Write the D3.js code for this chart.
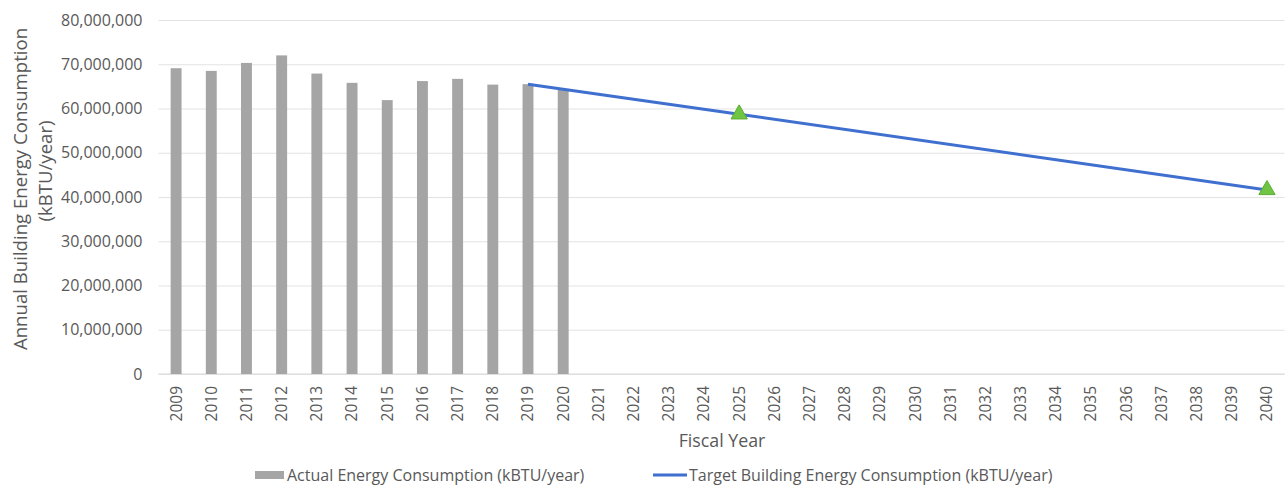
<!DOCTYPE html>
<html>
<head>
<meta charset="utf-8">
<script src="https://cdnjs.cloudflare.com/ajax/libs/d3/7.8.5/d3.min.js"></script>
<style>
    body {
        margin: 0;
        background: #fff;
    }
    svg text {
        font-family: "Open Sans", sans-serif;
        fill: #595959;
    }
</style>
</head>
<body>
<div id="chart"></div>
<script>
    // fiscal years on the category axis
    var years = ["2009", "2010", "2011", "2012", "2013", "2014", "2015", "2016",
        "2017", "2018", "2019", "2020", "2021", "2022", "2023", "2024",
        "2025", "2026", "2027", "2028", "2029", "2030", "2031", "2032",
        "2033", "2034", "2035", "2036", "2037", "2038", "2039", "2040"];

    // actual energy consumption (kBTU/year)
    var actualYears = ["2009", "2010", "2011", "2012", "2013", "2014",
        "2015", "2016", "2017", "2018", "2019", "2020"];
    var actualValues = [69100000, 68500000, 70300000, 72000000, 67900000, 65800000,
        61900000, 66200000, 66700000, 65400000, 65500000, 64300000];

    // target building energy consumption (kBTU/year)
    var targetYears = ["2019", "2025", "2040"];
    var targetValues = [65500000, 58700000, 41600000];

    // target milestones shown as triangles
    var milestoneYears = ["2025", "2040"];
    var milestoneValues = [58700000, 41600000];

    var yTicks = [0, 10000000, 20000000, 30000000, 40000000, 50000000, 60000000, 70000000, 80000000];

    var width = 1286, height = 487;
    var plot = { left: 158.5, right: 1284.6, top: 20, bottom: 374 };

    var svg = d3.select("#chart").append("svg")
        .attr("width", width)
        .attr("height", height);

    var x = d3.scaleBand()
        .domain(years)
        .range([plot.left, plot.right])
        .paddingInner(0.69)
        .paddingOuter(0.345);

    var y = d3.scaleLinear()
        .domain([0, 80000000])
        .range([plot.bottom, plot.top]);

    // gridlines + y labels
    var yAxis = d3.axisLeft(y)
        .tickValues(yTicks)
        .tickSize(-(plot.right - plot.left))
        .tickPadding(16)
        .tickFormat(d3.format(","));

    var gy = svg.append("g")
        .attr("transform", "translate(" + plot.left + ",0)")
        .call(yAxis);
    gy.select(".domain").remove();
    gy.selectAll(".tick line")
        .attr("stroke", "#e3e3e3")
        .attr("stroke-width", 1);
    gy.selectAll(".tick text")
        .attr("font-size", "16px")
        .attr("fill", "#595959");

    // category axis
    var xAxis = d3.axisBottom(x).tickSize(0).tickPadding(0);
    var gx = svg.append("g")
        .attr("transform", "translate(0," + plot.bottom + ")")
        .call(xAxis);
    gx.select(".domain")
        .attr("stroke", "#d9d9d9")
        .attr("d", "M" + plot.left + ",0H" + plot.right);
    gx.selectAll(".tick text")
        .attr("font-size", "15.5px")
        .attr("fill", "#595959")
        .attr("text-anchor", "end")
        .attr("transform", "translate(0,12) rotate(-90)")
        .attr("x", 0)
        .attr("y", 0)
        .attr("dy", "0.35em");

    // bars
    var actualData = actualYears.map(function (d, i) { return { year: d, value: actualValues[i] }; });
    svg.append("g")
        .selectAll("rect")
        .data(actualData)
        .enter().append("rect")
        .attr("x", function (d) { return x(d.year); })
        .attr("width", x.bandwidth())
        .attr("y", function (d) { return y(d.value); })
        .attr("height", function (d) { return y(0) - y(d.value); })
        .attr("fill", "#a5a5a5");

    // target line
    var targetData = targetYears.map(function (d, i) { return { year: d, value: targetValues[i] }; });
    var line = d3.line()
        .x(function (d) { return x(d.year) + x.bandwidth() / 2; })
        .y(function (d) { return y(d.value); });

    svg.append("path")
        .datum(targetData)
        .attr("d", line)
        .attr("fill", "none")
        .attr("stroke", "#3f6fcf")
        .attr("stroke-width", 3);

    // milestone triangles
    var milestoneData = milestoneYears.map(function (d, i) { return { year: d, value: milestoneValues[i] }; });
    svg.append("g")
        .selectAll("path")
        .data(milestoneData)
        .enter().append("path")
        .attr("d", d3.symbol().type(d3.symbolTriangle).size(115))
        .attr("transform", function (d) {
            return "translate(" + (x(d.year) + x.bandwidth() / 2) + "," + y(d.value) + ")";
        })
        .attr("fill", "#70c443")
        .attr("stroke", "#5aad34")
        .attr("stroke-width", 1);

    // axis titles
    var yTitle = svg.append("g").attr("font-size", "18.6px");
    yTitle.append("text")
        .attr("transform", "translate(20,189) rotate(-90)")
        .attr("text-anchor", "middle")
        .attr("dy", "0.35em")
        .text("Annual Building Energy Consumption");
    yTitle.append("text")
        .attr("transform", "translate(45,171) rotate(-90)")
        .attr("text-anchor", "middle")
        .attr("dy", "0.35em")
        .text("(kBTU/year)");

    svg.append("text")
        .attr("x", 722)
        .attr("y", 441)
        .attr("text-anchor", "middle")
        .attr("dy", "0.35em")
        .attr("font-size", "17.8px")
        .text("Fiscal Year");

    // legend
    var legend = svg.append("g").attr("font-size", "16px");
    legend.append("rect")
        .attr("x", 255).attr("y", 471)
        .attr("width", 29).attr("height", 8)
        .attr("fill", "#a5a5a5");
    legend.append("text")
        .attr("x", 287).attr("y", 475)
        .attr("dy", "0.35em")
        .text("Actual Energy Consumption (kBTU/year)");
    legend.append("line")
        .attr("x1", 653).attr("x2", 687)
        .attr("y1", 475).attr("y2", 475)
        .attr("stroke", "#3f6fcf")
        .attr("stroke-width", 3);
    legend.append("text")
        .attr("x", 689).attr("y", 475)
        .attr("dy", "0.35em")
        .text("Target Building Energy Consumption (kBTU/year)");
</script>
</body>
</html>
